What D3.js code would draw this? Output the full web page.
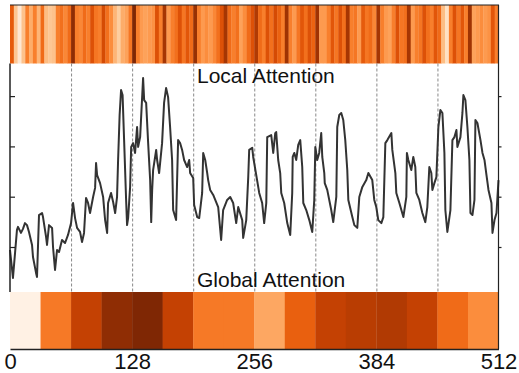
<!DOCTYPE html>
<html><head><meta charset="utf-8">
<script src="https://cdn.jsdelivr.net/npm/d3@7"></script>
<style>html,body{margin:0;padding:0;background:#fff}svg{display:block}</style>
</head><body>
<script>
const tokenCount = 512;
const localAttn = [
.68,.28,.10,.30,.55,.38,.55,.35,.62,.32,.28,.30,.55,.60,.52,.62,
.95,.55,.52,.62,.55,.72,.58,.55,.75,.60,.50,.35,.25,.38,.42,.58,
1.0,.55,.45,.42,.45,.48,.72,.55,.88,.45,.55,.60,.72,.58,.70,.62,
.92,.55,.45,.50,.45,.52,.60,.72,.88,.62,.55,.60,.42,.50,.62,.72,
.85,.62,.55,.72,.60,.75,.65,.55,.90,.55,.45,.58,.70,.60,.72,.65,
.90,.45,.45,.55,.70,.58,.72,.60,.88,.55,.58,.45,.68,.58,.62,.52,
.88,.55,.45,.42,.55,.72,.58,.60,.88,.45,.55,.58,.72,.60,.55,.70,
.62,.32,.15,.55,.72,.58,.70,.55,.90,.42,.45,.50,.45,.48,.70,.55];
const globalAttn = [.03,.57,.80,.95,1.0,.80,.57,.57,.40,.66,.80,.83,.85,.80,.62,.50];
const lineX = [0,3.1,7.3,8.4,11.5,13.6,15.7,17.8,19.9,23.1,24.1,27.3,28.3,30.4,33.6,34.6,37.8,38.8,40.9,44.1,45.1,47.2,49.3,51.4,54.5,57.7,60.8,64.0,66.1,68.2,70.3,73.4,75.5,77.6,79.7,81.8,83.9,87.1,89.2,90.2,91.3,94.4,97.6,99.7,101.8,102.8,105.9,108.1,110.2,112.2,
113.3,114.9,116.4,118.0,119.6,121.7,122.7,123.8,125.9,127.0,129.0,131.1,133.2,134.3,136.4,139.5,140.6,142.7,144.8,146.9,148.0,149.0,150.0,153.2,154.2,156.3,159.4,161.5,163.6,165.7,167.8,169.9,171.0,174.1,176.2,178.3,180.4,182.5,185.7,187.8,188.8,192.0,193.0,196.2,198.3,201.4,202.5,204.6,206.7,207.7,209.8,213.0,218.2,221.3,223.4,227.6,230.8,233.9,237.1,239.2,243.4,244.4,247.6,249.7,250.7,253.9,254.9,258.1,
261.2,264.3,266.4,268.6,269.6,273.8,275.9,278.0,279.0,281.1,283.2,284.3,287.4,290.6,293.7,295.8,296.3,298.0,300.0,302.1,304.2,306.3,307.4,310.5,313.7,316.8,318.9,320.0,322.0,324.1,326.2,327.3,329.4,329.9,332.5,336.7,338.8,342.0,343.0,345.1,347.2,349.3,351.4,353.5,354.6,358.8,360.9,364.0,366.1,369.3,373.4,375.6,379.7,381.8,383.9,386.0,389.2,391.3,393.4,395.5,399.7,400.7,403.9,404.9,408.1,412.3,415.4,416.0,417.5,420.6,422.7,424.8,425.9,429.0,432.2,435.3,437.4,439.5,441.6,442.7,444.8,446.9,449.0,451.1,453.2,455.3,456.3,458.4,461.6,463.7,465.8,467.9,468.9,472.1,474.2,475.2,477.3,479.4,481.5,482.6,484.7,486.8,487.8,489.9,493.1,495.2,497.3,499.4,501.5,504.6,505.7,507.8,509.9,512];
const lineY = [.188,.077,.268,.280,.256,.272,.295,.287,.260,.208,.160,.097,.081,.327,.335,.319,.240,.208,.287,.276,.200,.109,.188,.180,.228,.216,.248,.295,.375,.315,.276,.260,.220,.256,.395,.375,.335,.399,.435,.534,.486,.454,.399,.307,.256,.375,.415,.379,.335,.399,
.546,.725,.824,.804,.625,.387,.287,.315,.439,.598,.613,.574,.677,.598,.637,.872,.784,.773,.613,.466,.299,.427,.506,.586,.546,.494,.613,.773,.832,.796,.677,.546,.347,.307,.625,.613,.586,.546,.518,.546,.494,.474,.367,.319,.315,.415,.574,.546,.494,.466,.427,.407,.359,.228,.347,.387,.399,.375,.295,.359,.307,.236,.307,.478,.586,.594,.558,.486,
.415,.375,.295,.375,.637,.645,.574,.653,.657,.546,.494,.415,.375,.295,.248,.415,.558,.574,.546,.606,.625,.518,.375,.347,.307,.260,.387,.598,.546,.574,.653,.558,.494,.454,.427,.347,.299,.399,.677,.725,.733,.705,.625,.506,.387,.319,.287,.276,.399,.439,.466,.494,.466,.387,.359,.307,.295,.319,.613,.625,.653,.586,.494,.415,.375,.319,.399,.574,.546,.506,.558,.518,.415,.387,.335,.299,.359,.518,.494,.427,.454,.478,.677,.745,.733,.574,.347,.260,.347,.625,.637,.665,.598,.637,.733,.804,.784,.677,.546,.335,.327,.387,.705,.693,.625,.574,.546,.486,.427,.375,.256,.307,.335,.466];
const xTickValues = [0,128,256,384,512];
const gridValues = [64,128,192,256,320,384,448];
const yTickValues = [0.2,0.4,0.6,0.8];

const W = 519, H = 373;
const svg = d3.select("body").append("svg").attr("width", W).attr("height", H);
const x = d3.scaleLinear().domain([0, tokenCount]).range([10, 498.5]);
const y = d3.scaleLinear().domain([0, 1]).range([297.3, 45.8]);
const color = d3.scaleSequential(d3.interpolateOranges).domain([0, 1]);
const topY0 = 5, topY1 = 63.5, midY1 = 292, botY1 = 349;
const font = "'Liberation Sans', Arial, sans-serif";

// top local heatmap
const lstep = tokenCount / localAttn.length;
svg.append("g").selectAll("rect").data(localAttn).join("rect")
  .attr("x", (d, i) => x(i * lstep)).attr("width", (d, i) => x((i + 1) * lstep) - x(i * lstep) + 0.3)
  .attr("y", topY0).attr("height", topY1 - topY0).attr("fill", d => color(d));

// bottom global heatmap
const gstep = tokenCount / globalAttn.length;
svg.append("g").selectAll("rect").data(globalAttn).join("rect")
  .attr("x", (d, i) => x(i * gstep)).attr("width", (d, i) => x((i + 1) * gstep) - x(i * gstep) + 0.3)
  .attr("y", midY1).attr("height", botY1 - midY1).attr("fill", d => color(d));

// dashed grid
svg.append("g").selectAll("line").data(gridValues).join("line")
  .attr("x1", d => x(d) + 0.5).attr("x2", d => x(d) + 0.5).attr("y1", topY1).attr("y2", midY1)
  .attr("stroke", "#888").attr("stroke-width", 1).attr("stroke-dasharray", "3,2");

// line
svg.append("path").datum(lineX.map((t, i) => [t, lineY[i]]))
  .attr("fill", "none").attr("stroke", "#333").attr("stroke-width", 2).attr("stroke-linejoin", "round")
  .attr("d", d3.line().x(d => x(d[0])).y(d => y(d[1])));

// spines
svg.append("line").attr("x1", 10).attr("x2", 10).attr("y1", topY1).attr("y2", midY1).attr("stroke", "#222").attr("stroke-width", 1.5);
svg.append("line").attr("x1", 498.5).attr("x2", 498.5).attr("y1", topY0).attr("y2", botY1).attr("stroke", "#222").attr("stroke-width", 1.2);
svg.append("line").attr("x1", 10).attr("x2", 499).attr("y1", topY0).attr("y2", topY0).attr("stroke", "#222").attr("stroke-width", 1.2);

// y ticks left/right
svg.append("g").attr("transform", "translate(10,0)")
  .call(d3.axisLeft(y).tickValues(yTickValues).tickSize(-5).tickFormat(""))
  .call(g => g.select(".domain").remove())
  .call(g => g.selectAll("line").attr("stroke", "#222").attr("stroke-width", 1.2));
svg.append("g").attr("transform", "translate(498.5,0)")
  .call(d3.axisRight(y).tickValues(yTickValues).tickSize(3).tickFormat(""))
  .call(g => g.select(".domain").remove())
  .call(g => g.selectAll("line").attr("stroke", "#222").attr("stroke-width", 1.2));

// x axis
svg.append("g").attr("transform", `translate(0,${botY1})`)
  .call(d3.axisBottom(x).tickValues(xTickValues).tickSize(0).tickPadding(4))
  .call(g => g.select(".domain").attr("stroke", "#222").attr("stroke-width", 1.5))
  .call(g => g.selectAll("text").attr("font-family", font).attr("font-size", 22).attr("fill", "#111"));

// labels
svg.append("text").attr("x", 197).attr("y", 83).text("Local Attention")
  .attr("font-family", font).attr("font-size", 21).attr("fill", "#111");
svg.append("text").attr("x", 197).attr("y", 287).text("Global Attention")
  .attr("font-family", font).attr("font-size", 21).attr("fill", "#111");
</script>
</body></html>
